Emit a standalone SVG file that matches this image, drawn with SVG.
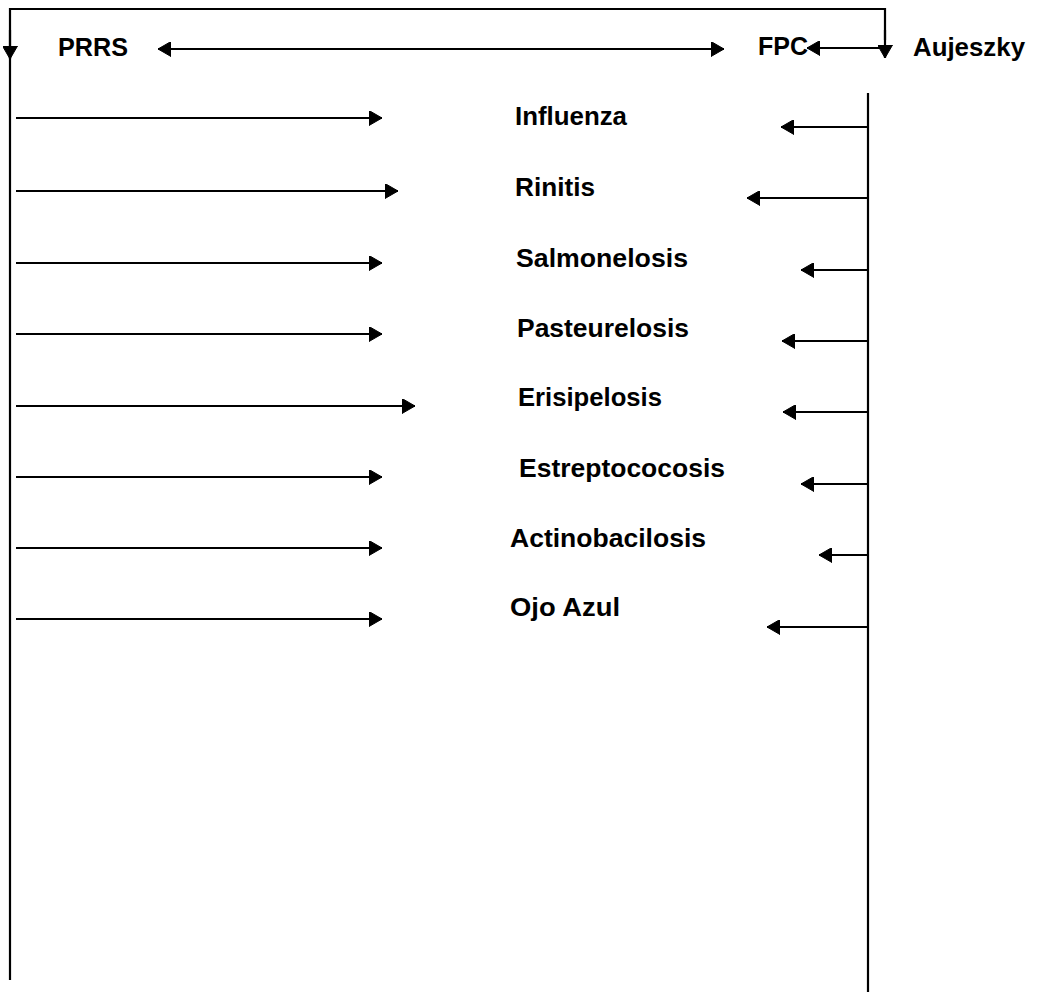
<svg xmlns="http://www.w3.org/2000/svg" width="1044" height="992" viewBox="0 0 1044 992">
  <style>
    .lbl { font-family: "Liberation Sans", Arial, sans-serif; font-weight: bold; font-size: 25px; fill: #000; }
    .ln { stroke: #000; stroke-width: 2.2; fill: none; }
    .end { marker-end: url(#head); }
    .both { marker-start: url(#head); marker-end: url(#head); }
  </style>
  <defs>
    <marker id="head" viewBox="0 0 13 15" refX="13" refY="7.5" markerWidth="13" markerHeight="15" markerUnits="userSpaceOnUse" orient="auto-start-reverse">
      <path d="M0,0 L13,7.5 L0,15 Z" fill="#000" stroke="#000" stroke-width="1" stroke-linejoin="round"/>
    </marker>
  </defs>

  <rect width="1044" height="992" fill="#fff"/>

  <g id="connectors">
    <!-- frame linking PRRS and Aujeszky -->
    <path class="ln" d="M10,980 L10,9 L885,9 L885,40"/>
    <path class="ln end" d="M10,30 L10,59"/>
    <path class="ln end" d="M885,30 L885,58"/>
    <!-- Aujeszky to FPC -->
    <path class="ln end" d="M885,48 L807,48"/>
    <!-- PRRS to FPC -->
    <path class="ln both" d="M158,49 L724,49"/>
    <!-- right trunk -->
    <path class="ln" d="M868,93 L868,992"/>

    <!-- from the left trunk -->
    <path class="ln end" d="M16,118 L382,118"/>
    <path class="ln end" d="M16,191 L398,191"/>
    <path class="ln end" d="M16,263 L382,263"/>
    <path class="ln end" d="M16,334 L382,334"/>
    <path class="ln end" d="M16,406 L415,406"/>
    <path class="ln end" d="M16,477 L382,477"/>
    <path class="ln end" d="M16,548 L382,548"/>
    <path class="ln end" d="M16,619 L382,619"/>

    <!-- from the right trunk -->
    <path class="ln end" d="M868,127 L781,127"/>
    <path class="ln end" d="M868,198 L747,198"/>
    <path class="ln end" d="M868,270 L801,270"/>
    <path class="ln end" d="M868,341 L782,341"/>
    <path class="ln end" d="M868,412 L783,412"/>
    <path class="ln end" d="M868,484 L801,484"/>
    <path class="ln end" d="M868,555 L819,555"/>
    <path class="ln end" d="M868,627 L767,627"/>
  </g>

  <g id="prrs"><text class="lbl" x="58" y="56" textLength="70" lengthAdjust="spacingAndGlyphs">PRRS</text></g>
  <g id="fpc"><text class="lbl" x="758" y="55" textLength="50" lengthAdjust="spacingAndGlyphs">FPC</text></g>
  <g id="aujeszky"><text class="lbl" x="913" y="56" textLength="112" lengthAdjust="spacingAndGlyphs">Aujeszky</text></g>
  <g id="influenza"><text class="lbl" x="515" y="125" textLength="112" lengthAdjust="spacingAndGlyphs">Influenza</text></g>
  <g id="rinitis"><text class="lbl" x="515" y="196" textLength="80" lengthAdjust="spacingAndGlyphs">Rinitis</text></g>
  <g id="salmonelosis"><text class="lbl" x="516" y="267" textLength="172" lengthAdjust="spacingAndGlyphs">Salmonelosis</text></g>
  <g id="pasteurelosis"><text class="lbl" x="517" y="337" textLength="172" lengthAdjust="spacingAndGlyphs">Pasteurelosis</text></g>
  <g id="erisipelosis"><text class="lbl" x="518" y="406" textLength="144" lengthAdjust="spacingAndGlyphs">Erisipelosis</text></g>
  <g id="estreptococosis"><text class="lbl" x="519" y="477" textLength="206" lengthAdjust="spacingAndGlyphs">Estreptococosis</text></g>
  <g id="actinobacilosis"><text class="lbl" x="510" y="547" textLength="196" lengthAdjust="spacingAndGlyphs">Actinobacilosis</text></g>
  <g id="ojo-azul"><text class="lbl" x="510" y="616" textLength="110" lengthAdjust="spacingAndGlyphs">Ojo Azul</text></g>
</svg>
